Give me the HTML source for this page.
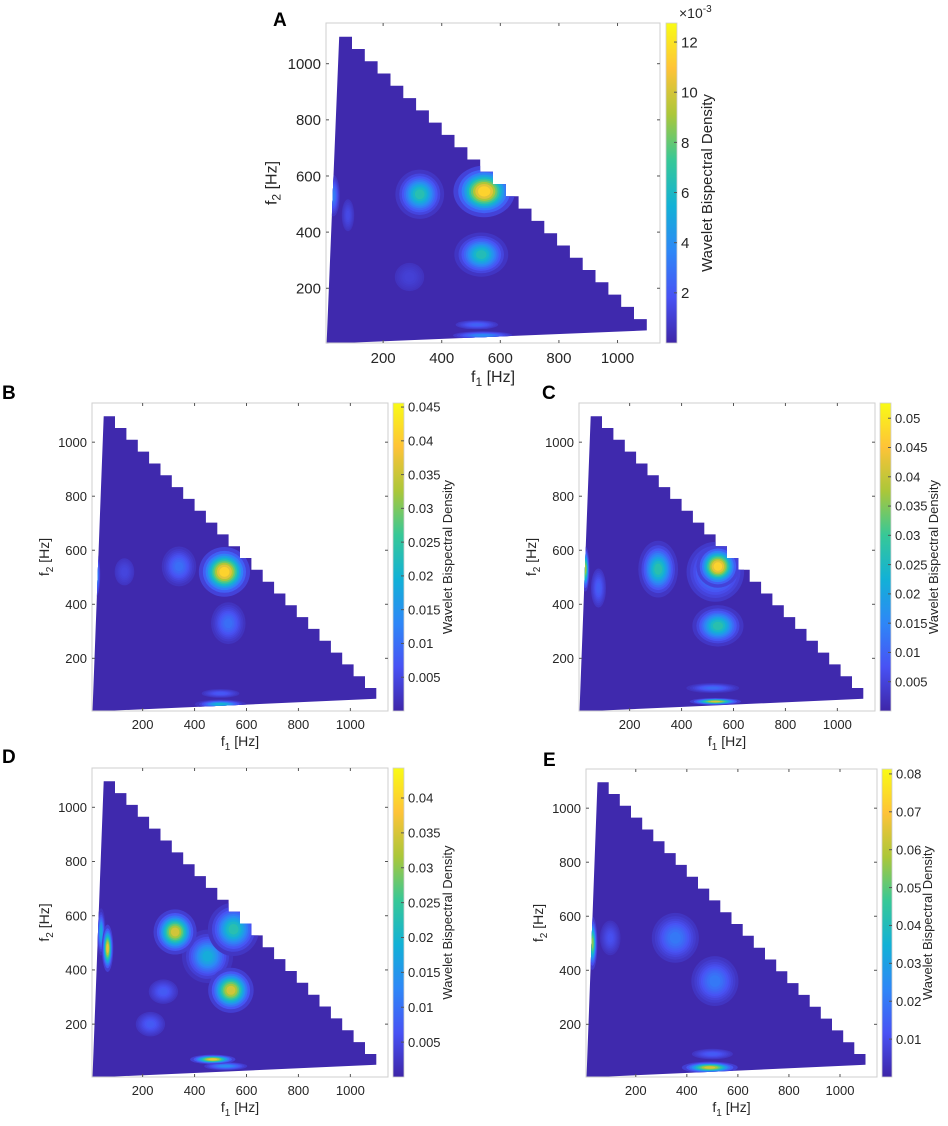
<!DOCTYPE html>
<html><head><meta charset="utf-8">
<style>
html,body{margin:0;padding:0;background:#fff;}
svg{display:block;font-family:"Liberation Sans",sans-serif;}
</style></head>
<body>
<svg id="fig" width="948" height="1126" viewBox="0 0 948 1126" xmlns="http://www.w3.org/2000/svg">
<defs>
<linearGradient id="parulaGrad" x1="0" y1="1" x2="0" y2="0">
<stop offset="0" stop-color="#3e26a8"/><stop offset="0.1429" stop-color="#4852f4"/>
<stop offset="0.2857" stop-color="#2e87f7"/><stop offset="0.4286" stop-color="#12b1d6"/>
<stop offset="0.5714" stop-color="#37c897"/><stop offset="0.7143" stop-color="#abc739"/>
<stop offset="0.8571" stop-color="#fec338"/><stop offset="1" stop-color="#f9fb15"/>
</linearGradient>
</defs>
</svg>
<script>
// ---- data ----
const xTicks = [200, 400, 600, 800, 1000];
const yTicks = [200, 400, 600, 800, 1000];
const axisLim = [5, 1145];

const cbTicksA = [2, 4, 6, 8, 10, 12];           // x1e-3
const cbTicksB = [0.005, 0.01, 0.015, 0.02, 0.025, 0.03, 0.035, 0.04, 0.045];
const cbTicksC = [0.005, 0.01, 0.015, 0.02, 0.025, 0.03, 0.035, 0.04, 0.045, 0.05];
const cbTicksD = [0.005, 0.01, 0.015, 0.02, 0.025, 0.03, 0.035, 0.04];
const cbTicksE = [0.01, 0.02, 0.03, 0.04, 0.05, 0.06, 0.07, 0.08];
const cbMax = [12.76, 0.0456, 0.0526, 0.0443, 0.0813];

// peaks: f1, f2 (Hz), peak value, spread sx, sy (Hz)
const peakF1A = [290, 520, 80, 30, 325, 535, 545];
const peakF2A = [240, 70, 460, 530, 535, 320, 545];
const peakValA = [1.2, 2.6, 1.6, 3.6, 7.2, 7.0, 12.6];
const peakSxA = [40, 45, 15, 12, 38, 42, 48];
const peakSyA = [40, 10, 40, 40, 40, 36, 42];
const peakF1A2 = [540], peakF2A2 = [32], peakValA2 = [4.2];

const peakF1B = [130, 340, 530, 500, 500, 20, 515];
const peakF2B = [520, 540, 330, 70, 30, 510, 520];
const peakValB = [0.005, 0.011, 0.011, 0.008, 0.022, 0.02, 0.045];
const peakSxB = [30, 36, 36, 45, 45, 9, 45];
const peakSyB = [40, 40, 42, 10, 8, 45, 42];

const peakF1C = [80, 530, 310, 540, 520, 530, 30, 540];
const peakF2C = [460, 520, 530, 320, 90, 40, 530, 540];
const peakValC = [0.01, 0.018, 0.03, 0.03, 0.012, 0.045, 0.04, 0.052];
const peakSxC = [18, 60, 35, 45, 55, 45, 7, 38];
const peakSyC = [45, 60, 48, 35, 10, 6, 38, 36];

const peakF1D = [280, 230, 40, 520, 450, 550, 65, 325, 540, 470];
const peakF2D = [320, 200, 540, 45, 450, 550, 480, 540, 325, 70];
const peakValD = [0.008, 0.008, 0.02, 0.015, 0.02, 0.025, 0.04, 0.038, 0.038, 0.04];
const peakSxD = [35, 35, 8, 45, 45, 45, 10, 38, 40, 40];
const peakSyD = [28, 28, 40, 8, 45, 45, 40, 38, 38, 8];

const peakF1E = [100, 500, 355, 510, 30, 490];
const peakF2E = [520, 90, 520, 360, 500, 40];
const peakValE = [0.012, 0.015, 0.022, 0.022, 0.06, 0.07];
const peakSxE = [25, 50, 50, 50, 9, 50];
const peakSyE = [40, 12, 50, 50, 45, 10];

// ---- rendering ----
const NS = 'http://www.w3.org/2000/svg';
const svg = document.getElementById('fig');
const PAR = [[62,38,168],[72,82,244],[46,135,247],[18,177,214],[55,200,151],[171,199,57],[254,195,56],[249,251,21]];
function parula(t){t=Math.max(0,Math.min(1,t));const p=t*7,i=Math.min(6,Math.floor(p)),f=p-i;
 const c=PAR[i].map((v,k)=>Math.round(v+(PAR[i+1][k]-v)*f));return `rgb(${c[0]},${c[1]},${c[2]})`;}
function mk(tag,attrs,parent){const e=document.createElementNS(NS,tag);for(const k in attrs)e.setAttribute(k,attrs[k]);(parent||svg).appendChild(e);return e;}

const panels = [
 {id:'a',letter:'A',lx:273,ly:26,box:[326,23,660,343],cb:[666,677],fs:15,cbTicks:cbTicksA,vmax:cbMax[0],fmt:v=>String(v),exp:true,
  peaks:[[peakF1A,peakF2A,peakValA,peakSxA,peakSyA],[peakF1A2,peakF2A2,peakValA2,[55],[8]]]},
 {id:'b',letter:'B',lx:2,ly:399,box:[92,403,388,711],cb:[393,404],fs:13,cbTicks:cbTicksB,vmax:cbMax[1],fmt:v=>String(v),
  peaks:[[peakF1B,peakF2B,peakValB,peakSxB,peakSyB]]},
 {id:'c',letter:'C',lx:542,ly:399,box:[579,403,875,711],cb:[880,891],fs:13,cbTicks:cbTicksC,vmax:cbMax[2],fmt:v=>String(v),
  peaks:[[peakF1C,peakF2C,peakValC,peakSxC,peakSyC]]},
 {id:'d',letter:'D',lx:2,ly:763,box:[92,768,388,1077],cb:[393,404],fs:13,cbTicks:cbTicksD,vmax:cbMax[3],fmt:v=>String(v),
  peaks:[[peakF1D,peakF2D,peakValD,peakSxD,peakSyD]]},
 {id:'e',letter:'E',lx:543,ly:766,box:[586,769,877,1077],cb:[882,892],fs:13,cbTicks:cbTicksE,vmax:cbMax[4],fmt:v=>String(v),
  peaks:[[peakF1E,peakF2E,peakValE,peakSxE,peakSyE]]},
];

panels.forEach(P=>{
 const [L,T,R,B]=P.box, W=R-L, H=B-T;
 const sx=f=>L+(f-axisLim[0])/(axisLim[1]-axisLim[0])*W;
 const sy=f=>B-(f-axisLim[0])/(axisLim[1]-axisLim[0])*H;
 const g=mk('g',{});
 
 
 let pts=[[7,3],[1100,50],[1100,90]];
 const steps=24, x0=50, x1=1100, dx=(x1-x0)/steps;
 for(let i=steps-1;i>=0;i--){const xl=x0+i*dx, xr=xl+dx, top=1190-xr;
   pts.push([xr,top]);pts.push([xl,top]);}
 pts.push([50,1096]);
 const ptStr=pts.map(p=>sx(p[0]).toFixed(1)+','+sy(p[1]).toFixed(1)).join(' ');
 const cp=mk('clipPath',{id:'clip-'+P.id},g);
 mk('polygon',{points:ptStr},cp);
 const reg=mk('polygon',{points:ptStr,fill:parula(0.01)},g);
 
 
 const hg=mk('g',{'clip-path':'url(#clip-'+P.id+')'},g);
 
 
 const pxPerHzX=W/(axisLim[1]-axisLim[0]), pxPerHzY=H/(axisLim[1]-axisLim[0]);
 P.peaks.forEach(set=>{
  const [f1,f2,val,sxs,sys]=set;
  f1.forEach((_,i)=>{
   const K=10;
   const bl=mk('g',{},hg);
   
   
   for(let k=1;k<=K;k++){
     const vk=val[i]*k/(K+1);
     const t=vk/P.vmax; if(t<0.04) continue;
     const r=Math.sqrt(2*Math.log((K+1)/k));
     mk('ellipse',{cx:sx(f1[i]),cy:sy(f2[i]),rx:sxs[i]*r*pxPerHzX,ry:sys[i]*r*pxPerHzY,fill:parula(t)},bl);
   }
  });
 });
 const box=mk('rect',{x:L,y:T,width:W,height:H,fill:'none',stroke:'#cfcfcf','stroke-width':1},g);
 
 
 xTicks.forEach(v=>{
   const x=sx(v);
   mk('line',{x1:x,y1:B,x2:x,y2:B-3,stroke:'#555'},g);
   mk('line',{x1:x,y1:T,x2:x,y2:T+3,stroke:'#555'},g);
   const t=mk('text',{x:x,y:B+P.fs+5,'font-size':P.fs,fill:'#262626','text-anchor':'middle'},g);
   t.textContent=v;
   
   
 });
 yTicks.forEach(v=>{
   const y=sy(v);
   mk('line',{x1:L,y1:y,x2:L+3,y2:y,stroke:'#555'},g);
   mk('line',{x1:R,y1:y,x2:R-3,y2:y,stroke:'#555'},g);
   const t=mk('text',{x:L-5,y:y+P.fs*0.36,'font-size':P.fs,fill:'#262626','text-anchor':'end'},g);
   t.textContent=v;
   
   
 });
 const xt=mk('text',{x:(L+R)/2,y:B+P.fs*2+9,'font-size':P.fs+1,fill:'#262626','text-anchor':'middle'},g);
 xt.innerHTML='f<tspan font-size="'+(P.fs-3)+'" dy="4">1</tspan><tspan dy="-4"> [Hz]</tspan>';
 
 
 const yx=L-P.fs*3.3, yc=(T+B)/2;
 const yt=mk('text',{x:yx,y:yc,'font-size':P.fs+1,fill:'#262626','text-anchor':'middle',transform:`rotate(-90 ${yx} ${yc})`},g);
 yt.innerHTML='f<tspan font-size="'+(P.fs-3)+'" dy="4">2</tspan><tspan dy="-4"> [Hz]</tspan>';
 
 
 const [cl,cr]=P.cb;
 const cb=mk('rect',{x:cl,y:T,width:cr-cl,height:H,fill:'url(#parulaGrad)',stroke:'#cfcfcf','stroke-width':0.8},g);
 
 
 P.cbTicks.forEach(v=>{
   const y=B-v/P.vmax*H;
   mk('line',{x1:cr,y1:y,x2:cr-3,y2:y,stroke:'#555'},g);
   const t=mk('text',{x:cr+4,y:y+P.fs*0.36,'font-size':P.fs,fill:'#262626'},g);
   t.textContent=P.fmt(v);
   
   
 });
 const lblX={a:712,b:452,c:938,d:452,e:932}[P.id];
 const cbt=mk('text',{x:lblX,y:yc,'font-size':P.fs,fill:'#262626','text-anchor':'middle',transform:`rotate(-90 ${lblX} ${yc})`},g);
 cbt.textContent='Wavelet Bispectral Density';
 
 
 if(P.exp){
   const ex=mk('text',{x:679,y:18,'font-size':14,fill:'#262626'},g);
   ex.innerHTML='×10<tspan font-size="10" dy="-6">-3</tspan>';
   
   
 }
 const lt=mk('text',{x:P.lx,y:P.ly,'font-size':19,'font-weight':'bold',fill:'#000'},g);
 lt.textContent=P.letter;
 
 
});
</script>
</body></html>
